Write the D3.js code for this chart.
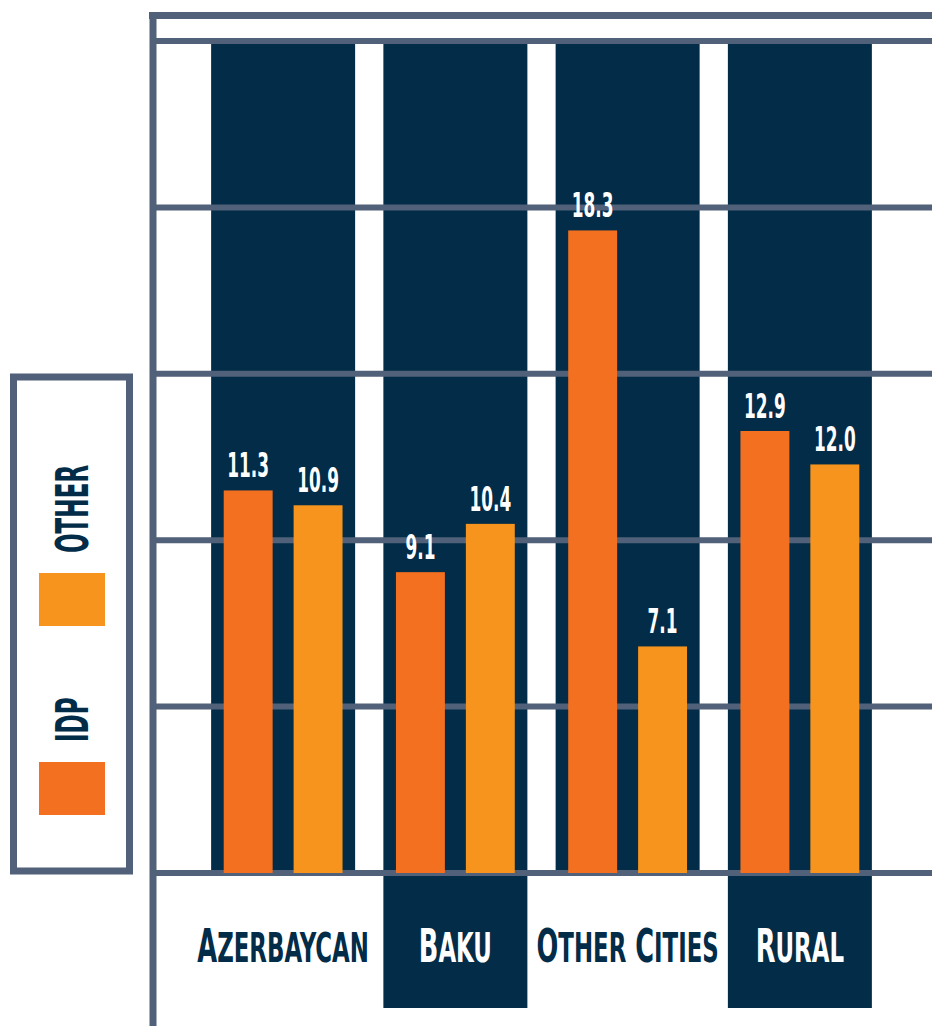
<!DOCTYPE html>
<html>
<head>
<meta charset="utf-8">
<script src="https://cdn.jsdelivr.net/npm/d3@7"></script>
<style>
  body { margin: 0; background: #fff; }
  text { font-family: "Liberation Sans Narrow", "DejaVu Sans Condensed", sans-serif; font-weight: bold; }
</style>
</head>
<body>
<svg id="viz" width="932" height="1026"></svg>
<script>
const svg = d3.select("#viz");

// データ
const regions = ["Azerbaycan", "Baku", "Other Cities", "Rural"];
const seriesNames = ["IDP", "Other"];
const idpValues = [11.3, 9.1, 18.3, 12.9];
const otherValues = [10.9, 10.4, 7.1, 12.0];

const navy = "#022c47";
const grey = "#506179";
const seriesColor = d3.scaleOrdinal()
  .domain(seriesNames)
  .range(["#f37021", "#f7941d"]);

const rows = regions.map((r, i) => ({
  region: r,
  values: [
    { key: "IDP", value: idpValues[i] },
    { key: "Other", value: otherValues[i] }
  ]
}));

// スケール
const x0 = d3.scaleBand()
  .domain(regions)
  .range([197, 886])
  .paddingInner(0.164)
  .paddingOuter(0.082);

const x1 = d3.scaleBand()
  .domain(seriesNames)
  .range([0, x0.bandwidth()])
  .paddingInner(0.3)
  .paddingOuter(0.18);

const y = d3.scaleLinear()
  .domain([1, 23.4])
  .range([873, 41]);

const baseY = y.range()[0];
const topY = y.range()[1];

// 文字を横方向に圧縮（細身の書体の代わり）
function squeeze(g, k) {
  g.attr("transform", function () {
    const t = d3.select(this).attr("data-t");
    return `${t} scale(${k},1)`;
  });
}

// 背景の列（偶数番目はラベルの下まで伸ばす）
svg.append("g")
  .selectAll("rect")
  .data(regions)
  .enter().append("rect")
  .attr("x", d => x0(d))
  .attr("y", topY)
  .attr("width", x0.bandwidth())
  .attr("height", (d, i) => (i % 2 === 1 ? 1008 : baseY) - topY)
  .attr("fill", navy);

// グリッド線
const gridY = d3.range(6).map(i => baseY + (topY - baseY) * i / 5);
svg.append("g")
  .selectAll("line")
  .data(gridY)
  .enter().append("line")
  .attr("x1", 153)
  .attr("x2", 932)
  .attr("y1", d => d)
  .attr("y2", d => d)
  .attr("stroke", grey)
  .attr("stroke-width", 6);

// 上の枠線と縦軸
svg.append("line")
  .attr("x1", 149).attr("x2", 932)
  .attr("y1", 15.5).attr("y2", 15.5)
  .attr("stroke", grey).attr("stroke-width", 7);

svg.append("line")
  .attr("x1", 153).attr("x2", 153)
  .attr("y1", 12).attr("y2", 1026)
  .attr("stroke", grey).attr("stroke-width", 7);

// 棒
const groups = svg.append("g")
  .selectAll("g")
  .data(rows)
  .enter().append("g")
  .attr("transform", d => `translate(${x0(d.region)},0)`);

groups.selectAll("rect")
  .data(d => d.values)
  .enter().append("rect")
  .attr("x", d => x1(d.key))
  .attr("y", d => y(d.value))
  .attr("width", x1.bandwidth())
  .attr("height", d => baseY - y(d.value))
  .attr("fill", d => seriesColor(d.key));

// 値ラベル
groups.selectAll("g.val")
  .data(d => d.values)
  .enter().append("g")
  .attr("class", "val")
  .attr("data-t", d => `translate(${x1(d.key) + x1.bandwidth() / 2},${y(d.value) - 13})`)
  .call(g => g.append("text")
    .attr("text-anchor", "middle")
    .attr("fill", "#fff")
    .style("font-size", "33px")
    .text(d => d.value.toFixed(1)))
  .call(squeeze, 0.57);

// 地域ラベル（スモールキャップ風）
const labelG = svg.append("g")
  .selectAll("g")
  .data(regions)
  .enter().append("g")
  .attr("data-t", d => `translate(${x0(d) + x0.bandwidth() / 2},962)`);

labelG.append("text")
  .attr("text-anchor", "middle")
  .attr("fill", (d, i) => (i % 2 === 1 ? "#fff" : navy))
  .each(function (d) {
    const t = d3.select(this);
    d.split(" ").forEach((w, wi) => {
      t.append("tspan").style("font-size", "46px").text((wi ? " " : "") + w[0].toUpperCase());
      t.append("tspan").style("font-size", "41px").text(w.slice(1).toUpperCase());
    });
  });
labelG.call(squeeze, 0.62);

// 凡例
svg.append("rect")
  .attr("x", 13.5).attr("y", 377)
  .attr("width", 116).attr("height", 494)
  .attr("fill", "none")
  .attr("stroke", grey)
  .attr("stroke-width", 7);

const legendItems = svg.append("g")
  .selectAll("g")
  .data(seriesNames)
  .enter().append("g")
  .attr("transform", (d, i) => `translate(0,${-189 * i})`);

legendItems.append("rect")
  .attr("x", 39).attr("y", 762)
  .attr("width", 66).attr("height", 53)
  .attr("fill", d => seriesColor(d));

legendItems.append("g")
  .attr("data-t", "translate(88,742) rotate(-90)")
  .call(g => g.append("text")
    .attr("text-anchor", "start")
    .attr("fill", navy)
    .style("font-size", "45px")
    .text(d => d.toUpperCase()))
  .call(squeeze, 0.57);
</script>
</body>
</html>
